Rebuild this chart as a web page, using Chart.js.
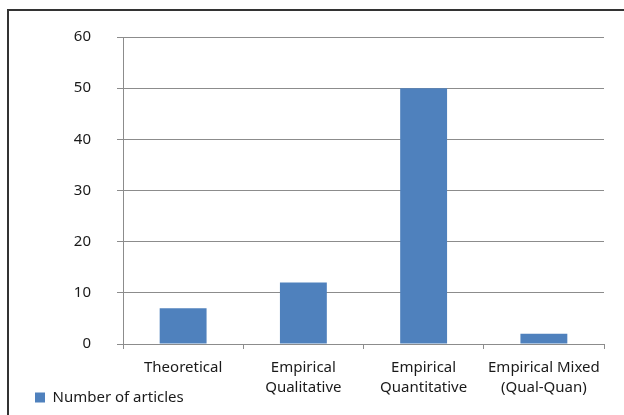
<!DOCTYPE html>
<html>
<head>
<meta charset="utf-8">
<script src="https://cdn.jsdelivr.net/npm/chart.js@4"></script>
<style>
  html, body { margin: 0; padding: 0; background: #fff; }
  #wrap { position: relative; width: 624px; height: 415px; overflow: hidden; }
  #frame { position: absolute; left: 7px; top: 9px; width: 700px; height: 500px;
           border-top: 2px solid #333; border-left: 2px solid #333; }
  canvas { position: absolute; left: 0; top: 0; }
</style>
</head>
<body>
<div id="wrap">
  <div id="frame"></div>
  <canvas id="chart" width="624" height="415"></canvas>
</div>
<script>
// DATA
const categories = [['Theoretical'], ['Empirical', 'Qualitative'], ['Empirical', 'Quantitative'], ['Empirical Mixed', '(Qual-Quan)']];
const articleCounts = [7, 12, 50, 2];
const seriesName = 'Number of articles';
const yTicks = [0, 10, 20, 30, 40, 50, 60];

const FONT = '"Noto Sans", sans-serif';
const gridGray = '#8c8c8c';
const textColor = '#1a1a1a';

// let the two-line category labels run past the axis box (they share space with the legend row)
const unclipLabels = {
    id: 'unclipLabels',
    afterLayout(chart) { chart.scales.x.bottom = chart.height; }
};

const ctx = document.getElementById('chart').getContext('2d');
new Chart(ctx, {
    type: 'bar',
    data: {
        labels: categories,
        datasets: [{
            label: seriesName,
            data: articleCounts,
            backgroundColor: '#4F81BD',
            borderWidth: 0,
            categoryPercentage: 1,
            barPercentage: 0.39
        }]
    },
    options: {
        responsive: false,
        animation: false,
        layout: { padding: { left: 29, right: 20, top: 37, bottom: 0 } },
        plugins: {
            legend: {
                position: 'bottom',
                align: 'start',
                labels: {
                    boxWidth: 10, boxHeight: 10, padding: 6,
                    color: textColor, font: { family: FONT, size: 15 }
                }
            },
            tooltip: { enabled: false }
        },
        scales: {
            x: {
                grid: { display: true, drawOnChartArea: false, offset: true, color: gridGray, tickLength: 5 },
                border: { color: gridGray },
                ticks: { color: textColor, font: { family: FONT, size: 15, lineHeight: 1.33 }, padding: 9, maxRotation: 0 },
                afterFit: s => { s.height = 40; }
            },
            y: {
                min: 0, max: 60,
                afterBuildTicks: s => { s.ticks = yTicks.map(v => ({ value: v })); },
                grid: { color: gridGray, tickLength: 6 },
                border: { color: gridGray },
                ticks: { color: textColor, font: { family: FONT, size: 15 }, padding: 26 },
                afterFit: s => { s.width = 94; }
            }
        }
    },
    plugins: [unclipLabels]
});
</script>
</body>
</html>
